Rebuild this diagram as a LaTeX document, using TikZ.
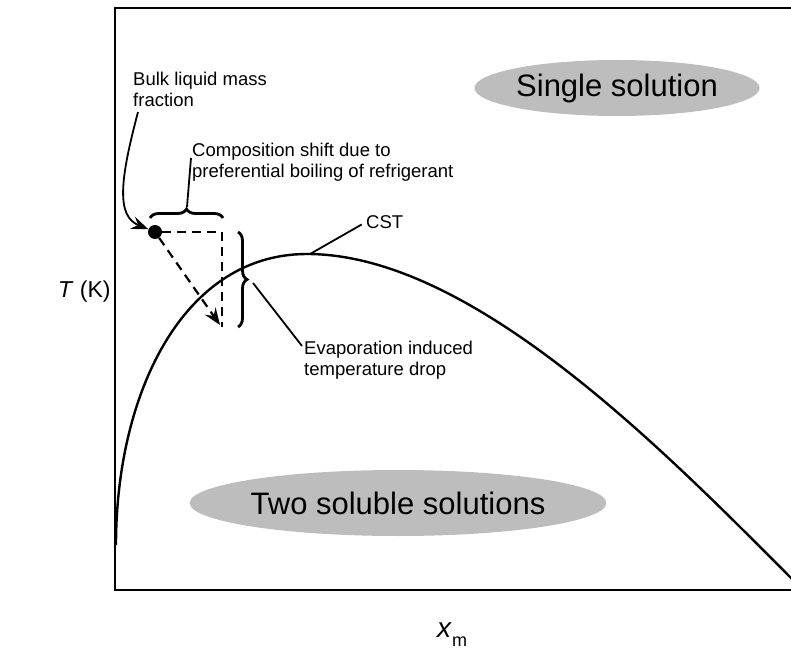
\documentclass[tikz,border=0pt]{standalone}
\usepackage{fontspec}
\setmainfont{Liberation Sans}
\usetikzlibrary{arrows.meta,decorations.pathreplacing,shapes.geometric}
\begin{document}
\begin{tikzpicture}[x=1pt,y=-1pt,
  lbl/.style={font=\fontsize{18.5}{20.5}\selectfont, align=left, inner sep=0pt, anchor=north west},
  region/.style={ellipse, fill=gray!52, inner sep=0pt, font=\fontsize{31}{34}\selectfont},
  leader/.style={line width=1.8pt},
  dashline/.style={line width=2.2pt, dash pattern=on 9pt off 6pt},
  tip/.style={-{Stealth[length=17pt,width=13pt,inset=6pt]}},
  bracket/.style={line width=2.8pt, decorate, decoration={brace, amplitude=9pt}}]
\useasboundingbox (0,0) rectangle (791,652);

% phase regions
\node[region, minimum width=245pt, minimum height=56pt] (single) at (617,88) {Single solution};
\node[region, minimum width=335pt, minimum height=66pt] (two) at (398,503) {Two soluble solutions};

% plot frame (open on the right)
\draw[line width=2.8pt] (791,8) -- (115,8) -- (115,590) -- (791,590);

% critical solution temperature curve
\coordinate (cstpeak) at (307,254);
\begin{scope}
  \clip (115,8) rectangle (791,590);
  \draw[line width=2.4pt] (116,545) .. controls (116,395) and (182,254) .. (cstpeak)
        .. controls (477,254) and (675,462) .. (805,592);
\end{scope}

% bulk state and its shifts
\node[circle, fill, inner sep=0pt, minimum size=14pt] (dot) at (155,232) {};
\coordinate (hd) at (222,232);
\coordinate (vd) at (222,327);
\coordinate (arrtip) at (220,325);
\draw[dashline] (dot) -- (hd) -- (vd);
\draw[dashline, tip] (dot) -- (arrtip);

% braces
\draw[bracket] (150,218) -- (223,218);
\draw[bracket] (238,232) -- (238,327);

% labels
\node[lbl] (bulk) at (133,72) {Bulk liquid mass\\fraction};
\node[lbl] (comp) at (192,143) {Composition shift due to\\preferential boiling of refrigerant};
\node[lbl, anchor=west] (cst) at (366,222) {CST};
\node[lbl] (evap) at (304,341) {Evaporation induced\\temperature drop};

% leaders
\coordinate (bulkstart) at (138,112);
\draw[leader, tip] (bulkstart) .. controls (120,180) and (116,216) .. (dot);
\coordinate (topbrace) at (187,207);
\coordinate (compend) at (191,158);
\draw[leader] (topbrace) -- (compend);
\coordinate (cstfoot) at (310,254);
\draw[leader, shorten >=5pt] (cstfoot) -- (cst.west);
\coordinate (sidebrace) at (253,283);
\coordinate (evapend) at (302,346);
\draw[leader] (sidebrace) -- (evapend);

% axis labels
\node[anchor=base west, inner sep=0pt, font=\fontsize{23}{25}\selectfont] (ylab) at (58,297) {\textit{T} (K)};
\node[anchor=base west, inner sep=0pt] (xlab) at (437,637) {\fontsize{28}{30}\selectfont\textit{x}\raisebox{-0.35em}{\fontsize{18}{20}\selectfont m}};
\end{tikzpicture}
\end{document}
